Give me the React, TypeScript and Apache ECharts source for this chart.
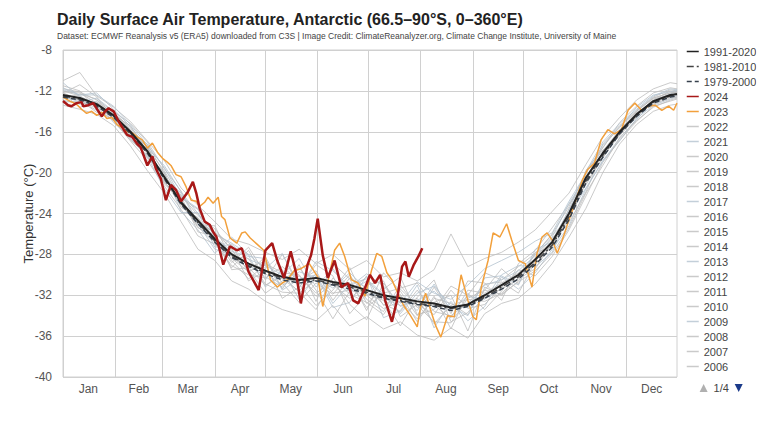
import React, { useEffect, useRef } from "react";
import * as echarts from "echarts";

const TITLE = "Daily Surface Air Temperature, Antarctic (66.5–90°S, 0–360°E)";
const SUBTITLE =
  "Dataset: ECMWF Reanalysis v5 (ERA5) downloaded from C3S | Image Credit: ClimateReanalyzer.org, Climate Change Institute, University of Maine";
const Y_NAME = "Temperature (°C)";

const MONTHS = ["Jan", "Feb", "Mar", "Apr", "May", "Jun", "Jul", "Aug", "Sep", "Oct", "Nov", "Dec"];
const MONTH_LENGTHS = [31, 28, 31, 30, 31, 30, 31, 31, 30, 31, 30, 31];
const Y_MIN = -40;
const Y_MAX = -8;
const Y_STEP = 4;

// sample days (day of year, 0-based) for climatologies and gray years
const SAMPLE_DAYS = [0, 10, 20, 30, 40, 50, 60, 70, 80, 90, 100, 110, 120, 130, 140, 150, 160, 170, 180, 190, 200, 210, 220, 230, 240, 250, 260, 270, 280, 290, 300, 310, 320, 330, 340, 350, 360, 364];

const CLIM_1991_2020 = [-12.4, -12.7, -13.3, -14.4, -16.0, -17.9, -20.4, -22.9, -24.7, -26.5, -28.0, -28.9, -29.6, -30.2, -30.5, -30.3, -30.7, -31.0, -31.5, -32.0, -32.3, -32.6, -32.8, -33.2, -32.9, -32.0, -31.0, -30.0, -28.5, -26.8, -24.0, -20.5, -18.1, -16.0, -14.3, -13.0, -12.4, -12.3];
const CLIM_1981_2010 = [-12.5, -12.8, -13.4, -14.5, -16.1, -18.0, -20.5, -23.0, -24.9, -26.7, -28.2, -29.1, -29.8, -30.3, -30.6, -30.5, -30.9, -31.2, -31.7, -32.2, -32.5, -32.8, -33.0, -33.3, -33.0, -32.2, -31.2, -30.2, -28.8, -27.1, -24.3, -20.8, -18.3, -16.1, -14.4, -13.1, -12.5, -12.4];
const CLIM_1979_2000 = [-12.6, -12.9, -13.5, -14.6, -16.2, -18.1, -20.6, -23.1, -25.0, -26.8, -28.3, -29.2, -29.9, -30.5, -30.8, -30.6, -31.0, -31.4, -31.8, -32.3, -32.6, -32.9, -33.1, -33.5, -33.1, -32.3, -31.4, -30.4, -29.0, -27.3, -24.6, -21.0, -18.5, -16.2, -14.5, -13.2, -12.6, -12.5];

const DAYS_2024 = [0, 3, 5, 8, 11, 12, 15, 18, 21, 23, 25, 27, 30, 33, 36, 38, 41, 44, 46, 48, 50, 53, 55, 58, 61, 64, 67, 70, 74, 77, 79, 81, 84, 87, 89, 91, 95, 99, 103, 106, 110, 113, 116, 120, 124, 127, 131, 135, 138, 141, 145, 147, 149, 151, 154, 157, 161, 165, 169, 172, 175, 179, 182, 185, 188, 191, 195, 198, 201, 203, 205, 208, 211, 213];
const VALUES_2024 = [-13.0, -13.4, -13.5, -13.2, -13.1, -13.5, -13.4, -13.2, -14.0, -14.5, -14.0, -13.7, -14.0, -15.0, -15.8, -16.3, -16.5, -17.2, -17.5, -18.4, -19.3, -18.4, -19.6, -20.6, -22.7, -21.2, -21.7, -22.8, -21.9, -20.9, -22.0, -23.5, -24.8, -25.1, -25.8, -26.3, -29.0, -27.2, -27.6, -27.4, -29.7, -30.6, -31.5, -27.6, -26.9, -28.6, -30.3, -27.7, -29.7, -32.8, -29.0, -28.1, -26.5, -24.5, -28.1, -30.3, -28.6, -31.2, -30.8, -32.5, -32.8, -31.3, -30.0, -30.8, -30.0, -32.5, -34.6, -32.5, -29.2, -28.7, -30.2, -29.0, -28.1, -27.4];

const DAYS_2023 = [0, 4, 8, 11, 14, 17, 20, 23, 26, 29, 32, 35, 38, 41, 44, 47, 50, 53, 56, 59, 62, 64, 67, 70, 73, 76, 79, 81, 84, 86, 89, 92, 94, 96, 99, 103, 106, 108, 111, 115, 119, 123, 127, 130, 133, 137, 141, 146, 151, 154, 158, 161, 164, 167, 171, 175, 179, 183, 186, 189, 192, 195, 199, 202, 206, 210, 212, 215, 218, 221, 224, 228, 232, 234, 236, 240, 243, 245, 248, 252, 255, 259, 263, 266, 270, 274, 278, 281, 284, 287, 290, 293, 296, 300, 304, 308, 311, 315, 319, 323, 327, 331, 335, 339, 343, 347, 351, 355, 359, 362, 364];
const VALUES_2023 = [-12.6, -13.0, -13.3, -13.8, -14.2, -14.0, -14.4, -14.1, -14.7, -14.6, -15.3, -15.6, -16.0, -16.1, -16.5, -16.8, -17.6, -17.1, -18.0, -18.6, -19.0, -19.3, -20.2, -20.4, -21.4, -22.7, -22.8, -23.3, -22.9, -22.4, -23.0, -22.4, -24.3, -24.6, -26.4, -26.9, -25.9, -25.8, -26.4, -27.0, -27.6, -30.5, -31.2, -30.8, -30.5, -29.6, -29.4, -28.9, -30.2, -33.1, -29.9, -27.6, -26.9, -28.2, -30.5, -30.8, -32.1, -29.5, -27.9, -28.2, -29.8, -30.5, -32.0, -33.0, -34.0, -35.1, -33.1, -31.8, -33.5, -35.0, -36.1, -34.0, -34.1, -32.0, -30.0, -32.5, -34.1, -34.4, -31.2, -28.6, -25.9, -26.3, -25.0, -26.6, -28.6, -28.9, -31.2, -27.9, -26.3, -25.9, -26.6, -27.9, -26.6, -24.6, -22.7, -20.7, -19.7, -19.1, -16.8, -15.8, -16.2, -15.8, -13.9, -13.2, -13.9, -13.5, -13.4, -13.9, -13.5, -13.9, -13.2];

const Y2022 = [-11.8, -12.1, -12.9, -14.0, -15.2, -17.0, -19.6, -21.8, -24.9, -25.8, -27.1, -29.8, -28.2, -31.4, -29.0, -32.6, -28.9, -30.4, -33.5, -29.8, -31.6, -34.0, -31.2, -33.8, -30.6, -30.8, -32.5, -28.9, -27.6, -25.4, -23.1, -20.9, -17.2, -15.4, -13.9, -12.6, -11.9, -12.0];
const Y2021 = [-12.9, -13.3, -13.0, -15.1, -16.6, -18.5, -19.9, -23.8, -25.6, -27.9, -26.3, -28.1, -31.2, -29.5, -32.4, -30.1, -33.2, -32.7, -30.1, -34.2, -33.5, -31.0, -35.2, -32.6, -34.5, -33.1, -30.2, -31.4, -29.8, -27.5, -25.2, -21.6, -18.8, -16.9, -14.7, -13.4, -12.8, -12.6];
const Y2020 = [-11.5, -12.0, -13.8, -13.9, -15.8, -18.2, -21.0, -22.5, -23.6, -26.8, -29.3, -27.6, -30.5, -28.0, -30.9, -33.0, -31.5, -29.3, -32.8, -31.4, -30.2, -33.9, -33.4, -31.1, -32.0, -29.8, -30.5, -29.2, -27.9, -26.1, -24.6, -19.8, -17.6, -15.1, -13.5, -12.2, -11.7, -11.8];
const Y2019 = [-12.2, -11.4, -12.6, -14.6, -16.3, -17.4, -20.8, -23.2, -25.1, -25.2, -28.6, -30.4, -29.0, -32.3, -31.2, -29.0, -30.1, -33.8, -31.9, -32.5, -35.0, -32.2, -30.5, -34.6, -33.7, -31.5, -29.4, -30.9, -27.8, -27.3, -23.5, -21.2, -18.5, -16.3, -14.6, -12.9, -12.0, -12.2];
const Y2018 = [-13.1, -13.0, -13.9, -14.9, -16.9, -18.8, -21.3, -23.6, -26.2, -27.0, -27.8, -29.5, -31.8, -30.6, -29.3, -31.5, -34.3, -31.6, -30.2, -33.0, -31.9, -34.6, -32.1, -35.3, -31.8, -33.4, -31.6, -29.5, -30.1, -28.2, -25.6, -22.3, -19.0, -16.8, -15.0, -13.5, -13.0, -12.8];
const Y2017 = [-11.9, -12.4, -12.2, -13.8, -15.5, -17.6, -19.3, -21.9, -24.0, -26.0, -26.9, -28.0, -29.4, -27.9, -31.3, -28.7, -29.6, -31.2, -29.9, -31.1, -32.8, -30.7, -31.8, -32.4, -31.0, -29.4, -28.6, -27.8, -26.7, -25.9, -22.8, -20.1, -17.3, -15.6, -13.6, -12.4, -12.1, -11.9];
const Y2016 = [-12.6, -12.9, -14.1, -14.3, -16.1, -17.2, -20.1, -23.0, -24.5, -26.4, -28.8, -27.3, -29.9, -31.0, -30.1, -31.8, -30.6, -32.9, -34.4, -30.8, -33.1, -32.3, -34.8, -33.0, -32.4, -32.6, -31.8, -30.3, -29.0, -27.0, -24.3, -20.7, -18.2, -16.1, -14.2, -13.2, -12.5, -12.4];
const Y2015 = [-12.0, -12.5, -13.4, -14.2, -15.6, -18.1, -20.3, -22.2, -24.2, -25.5, -27.6, -29.2, -28.7, -30.8, -32.7, -30.8, -31.9, -30.0, -32.4, -33.6, -31.0, -33.2, -32.7, -32.0, -35.5, -31.2, -32.0, -30.6, -28.3, -26.4, -24.9, -21.9, -17.9, -15.8, -14.0, -12.7, -12.2, -12.1];
const Y2014 = [-12.8, -12.3, -12.8, -14.8, -16.4, -17.7, -19.8, -22.6, -25.3, -26.9, -29.1, -30.0, -30.3, -29.2, -30.6, -29.6, -32.5, -30.3, -31.3, -32.9, -33.6, -31.5, -33.6, -34.0, -32.8, -30.9, -30.7, -31.8, -28.7, -26.6, -23.8, -20.3, -18.4, -15.9, -14.5, -13.1, -12.6, -12.5];
const Y2013 = [-11.2, -12.6, -13.6, -14.5, -16.7, -18.4, -21.6, -23.9, -23.9, -27.3, -27.0, -28.5, -29.1, -30.0, -28.4, -31.2, -29.4, -31.7, -30.6, -32.0, -32.1, -33.5, -30.9, -33.5, -32.1, -32.4, -30.0, -29.1, -29.2, -27.8, -24.1, -21.5, -18.9, -16.6, -14.8, -13.0, -12.3, -12.0];
const Y2012 = [-12.3, -13.6, -13.1, -14.1, -15.9, -17.5, -20.6, -22.3, -25.8, -26.2, -28.2, -28.4, -30.9, -31.7, -31.8, -30.5, -31.0, -32.3, -31.0, -30.6, -34.1, -32.9, -33.9, -31.5, -33.3, -32.9, -31.2, -30.1, -28.0, -26.0, -23.3, -20.0, -17.8, -16.4, -14.4, -12.8, -12.4, -12.3];
const Y2011 = [-12.7, -12.8, -13.5, -14.7, -16.2, -18.6, -20.0, -23.4, -24.4, -26.7, -28.4, -29.7, -28.9, -29.8, -30.0, -32.1, -30.9, -30.8, -33.2, -31.8, -31.3, -30.8, -33.0, -34.2, -31.5, -31.8, -30.8, -29.8, -28.5, -27.0, -24.5, -21.0, -18.6, -16.0, -14.1, -13.3, -12.7, -12.6];
const Y2010 = [-12.1, -12.2, -13.2, -14.4, -15.4, -17.9, -21.1, -22.7, -24.8, -25.9, -27.4, -30.6, -29.6, -30.4, -31.6, -29.9, -31.8, -31.5, -32.0, -33.3, -32.6, -34.3, -32.3, -32.8, -33.9, -32.2, -31.4, -30.4, -29.4, -26.9, -23.9, -20.6, -17.5, -15.5, -14.0, -12.7, -12.2, -12.1];
const Y2009 = [-12.5, -13.1, -12.7, -14.0, -16.5, -18.0, -20.5, -22.0, -25.0, -27.5, -28.0, -29.0, -30.2, -31.2, -29.7, -30.3, -31.3, -29.8, -31.4, -32.3, -33.0, -32.5, -31.6, -33.3, -33.1, -31.0, -30.5, -29.6, -28.1, -26.3, -23.0, -20.4, -18.0, -16.2, -14.3, -13.0, -12.5, -12.4];
const Y2008 = [-11.0, -10.2, -12.5, -13.6, -15.0, -16.9, -18.8, -21.5, -23.2, -24.8, -26.5, -27.0, -27.8, -28.5, -27.5, -28.9, -28.0, -29.5, -28.6, -30.2, -29.8, -30.6, -29.5, -26.0, -29.2, -28.4, -27.8, -26.8, -25.6, -23.8, -22.0, -19.2, -16.5, -14.6, -12.9, -11.8, -11.2, -11.3];
const Y2007 = [-13.4, -13.8, -14.3, -15.4, -17.4, -19.8, -22.0, -24.8, -27.5, -28.6, -30.6, -31.4, -32.6, -33.4, -33.9, -34.5, -33.0, -35.0, -34.1, -35.3, -34.6, -35.9, -36.4, -35.2, -36.2, -33.8, -32.8, -32.3, -30.9, -28.9, -26.3, -23.5, -20.0, -17.2, -15.3, -14.0, -13.4, -13.3];
const Y2006 = [-12.2, -12.9, -13.7, -14.9, -16.8, -18.3, -20.9, -22.8, -25.4, -26.1, -29.5, -29.3, -31.0, -30.1, -31.7, -33.4, -30.3, -31.9, -32.7, -33.9, -31.4, -33.0, -34.6, -34.7, -32.3, -31.5, -31.9, -30.7, -29.6, -27.9, -25.4, -22.0, -19.3, -16.6, -14.9, -13.6, -12.9, -12.7];
const Y2005 = [-11.7, -12.4, -12.4, -13.5, -15.3, -17.3, -19.5, -22.4, -23.5, -26.3, -27.7, -28.2, -28.4, -31.5, -30.4, -30.0, -32.8, -30.9, -30.4, -31.9, -33.8, -31.8, -31.1, -33.1, -34.0, -30.3, -30.1, -31.0, -27.5, -26.8, -23.6, -19.9, -17.0, -15.2, -13.8, -12.5, -11.8, -11.9];

const GRAY_YEARS: Record<string, number[]> = {
  "2022": Y2022, "2021": Y2021, "2020": Y2020, "2019": Y2019, "2018": Y2018, "2017": Y2017,
  "2016": Y2016, "2015": Y2015, "2014": Y2014, "2013": Y2013, "2012": Y2012, "2011": Y2011,
  "2010": Y2010, "2009": Y2009, "2008": Y2008, "2007": Y2007, "2006": Y2006, "2005": Y2005,
};
const FIRST_YEAR = 1940;
const LAST_GRAY_YEAR = 2022;
const LEGEND_ITEMS_PER_PAGE = 22;

const FONT = "Liberation Sans, Arial, sans-serif";

const pairs = (days: number[], vals: number[]) => days.map((d, i) => [d, vals[i]]);

export default function App() {
  const ref = useRef<HTMLDivElement>(null);
  useEffect(() => {
    document.body.style.margin = "0";
    if (!ref.current) return;
    const chart = echarts.init(ref.current, null, { renderer: "svg" });
    const monthStarts: number[] = [];
    let acc = 0;
    MONTH_LENGTHS.forEach((len) => { monthStarts.push(acc); acc += len; });
    const totalDays = acc;
    const midMonths = monthStarts.map((s, i) => s + Math.floor(MONTH_LENGTHS[i] / 2));
    const startSet = new Set(monthStarts);
    const midSet = new Set(midMonths);
    const categories = Array.from({ length: totalDays }, (_, i) => String(i));

    const base = { type: "line", symbol: "none", showSymbol: false, smooth: false };
    const hidden = { opacity: 0 };
    const series: any[] = [
      { ...base, name: "1991-2020", data: pairs(SAMPLE_DAYS, CLIM_1991_2020), z: 5, lineStyle: { color: "#222", width: 2 }, itemStyle: { color: "#222", ...hidden } },
      { ...base, name: "1981-2010", data: pairs(SAMPLE_DAYS, CLIM_1981_2010), z: 4, lineStyle: { color: "#444", width: 1.5, type: [7, 3, 2, 3] }, itemStyle: { color: "#444", ...hidden } },
      { ...base, name: "1979-2000", data: pairs(SAMPLE_DAYS, CLIM_1979_2000), z: 4, lineStyle: { color: "#36404c", width: 1.5, type: [5, 3] }, itemStyle: { color: "#36404c", ...hidden } },
      { ...base, name: "2024", data: pairs(DAYS_2024, VALUES_2024), z: 6, lineStyle: { color: "#a81818", width: 2.5 }, itemStyle: { color: "#a81818", ...hidden } },
      { ...base, name: "2023", data: pairs(DAYS_2023, VALUES_2023), z: 3, lineStyle: { color: "#f2a03c", width: 1.5 }, itemStyle: { color: "#f2a03c", ...hidden } },
    ];
    let k = 0;
    for (let y = LAST_GRAY_YEAR; y >= FIRST_YEAR; y--) {
      const vals = GRAY_YEARS[String(y)];
      const color = k % 4 === 1 ? "#b4c3d0" : "#bdbdbd";
      series.push({
        ...base,
        name: String(y),
        data: vals ? pairs(SAMPLE_DAYS, vals) : [],
        z: 2,
        lineStyle: { color, width: 1, opacity: 0.8 },
        itemStyle: { color: "#cfcfcf", ...hidden },
      });
      k++;
    }
    const totalPages = Math.ceil(series.length / LEGEND_ITEMS_PER_PAGE);

    chart.setOption({
      animation: false,
      backgroundColor: "#ffffff",
      textStyle: { fontFamily: FONT },
      title: {
        text: TITLE,
        subtext: SUBTITLE,
        left: 52,
        top: 6,
        itemGap: 4,
        textStyle: { fontSize: 16, fontWeight: "bold", color: "#222", fontFamily: FONT },
        subtextStyle: { fontSize: 8.5, color: "#444", fontFamily: FONT },
      },
      legend: {
        type: "scroll",
        orient: "vertical",
        left: 686,
        top: 46,
        height: 347.5,
        padding: 0,
        itemWidth: 12,
        itemHeight: 8,
        itemGap: 4,
        textStyle: { fontSize: 11, color: "#444" },
        lineStyle: { width: 1.5 },
        pageButtonPosition: "end",
        pageButtonGap: 7,
        pageButtonItemGap: 1,
        pageIconSize: [9, 8],
        pageIconColor: "#1a3a8a",
        pageIconInactiveColor: "#b0b0b0",
        pageTextStyle: { color: "#444", fontSize: 11 },
        pageFormatter: (p: any) => `${p.current}/${totalPages}`,
      },
      grid: { left: 63, right: 91, top: 50, bottom: 55, show: true, borderColor: "#d0d0d0", borderWidth: 1 },
      xAxis: {
        type: "category",
        data: categories,
        boundaryGap: false,
        axisLine: { show: false },
        axisTick: { show: false },
        axisLabel: {
          interval: (i: number) => midSet.has(i),
          formatter: (v: string) => MONTHS[midMonths.indexOf(Number(v))] ?? "",
          color: "#555",
          fontSize: 12,
          margin: 6,
        },
        splitLine: { show: true, interval: (i: number) => startSet.has(i), lineStyle: { color: "#d0d0d0", width: 1 } },
      },
      yAxis: {
        type: "value",
        min: Y_MIN,
        max: Y_MAX,
        interval: Y_STEP,
        name: Y_NAME,
        nameLocation: "middle",
        nameGap: 28,
        nameMoveOverlap: false,
        nameTextStyle: { fontSize: 13, color: "#333" },
        axisLine: { show: false },
        axisTick: { show: false },
        axisLabel: { color: "#555", fontSize: 12, margin: 11 },
        splitLine: { lineStyle: { color: "#d0d0d0", width: 1 } },
      },
      series,
    });
    return () => chart.dispose();
  }, []);
  return <div ref={ref} style={{ width: 768, height: 432 }} />;
}
